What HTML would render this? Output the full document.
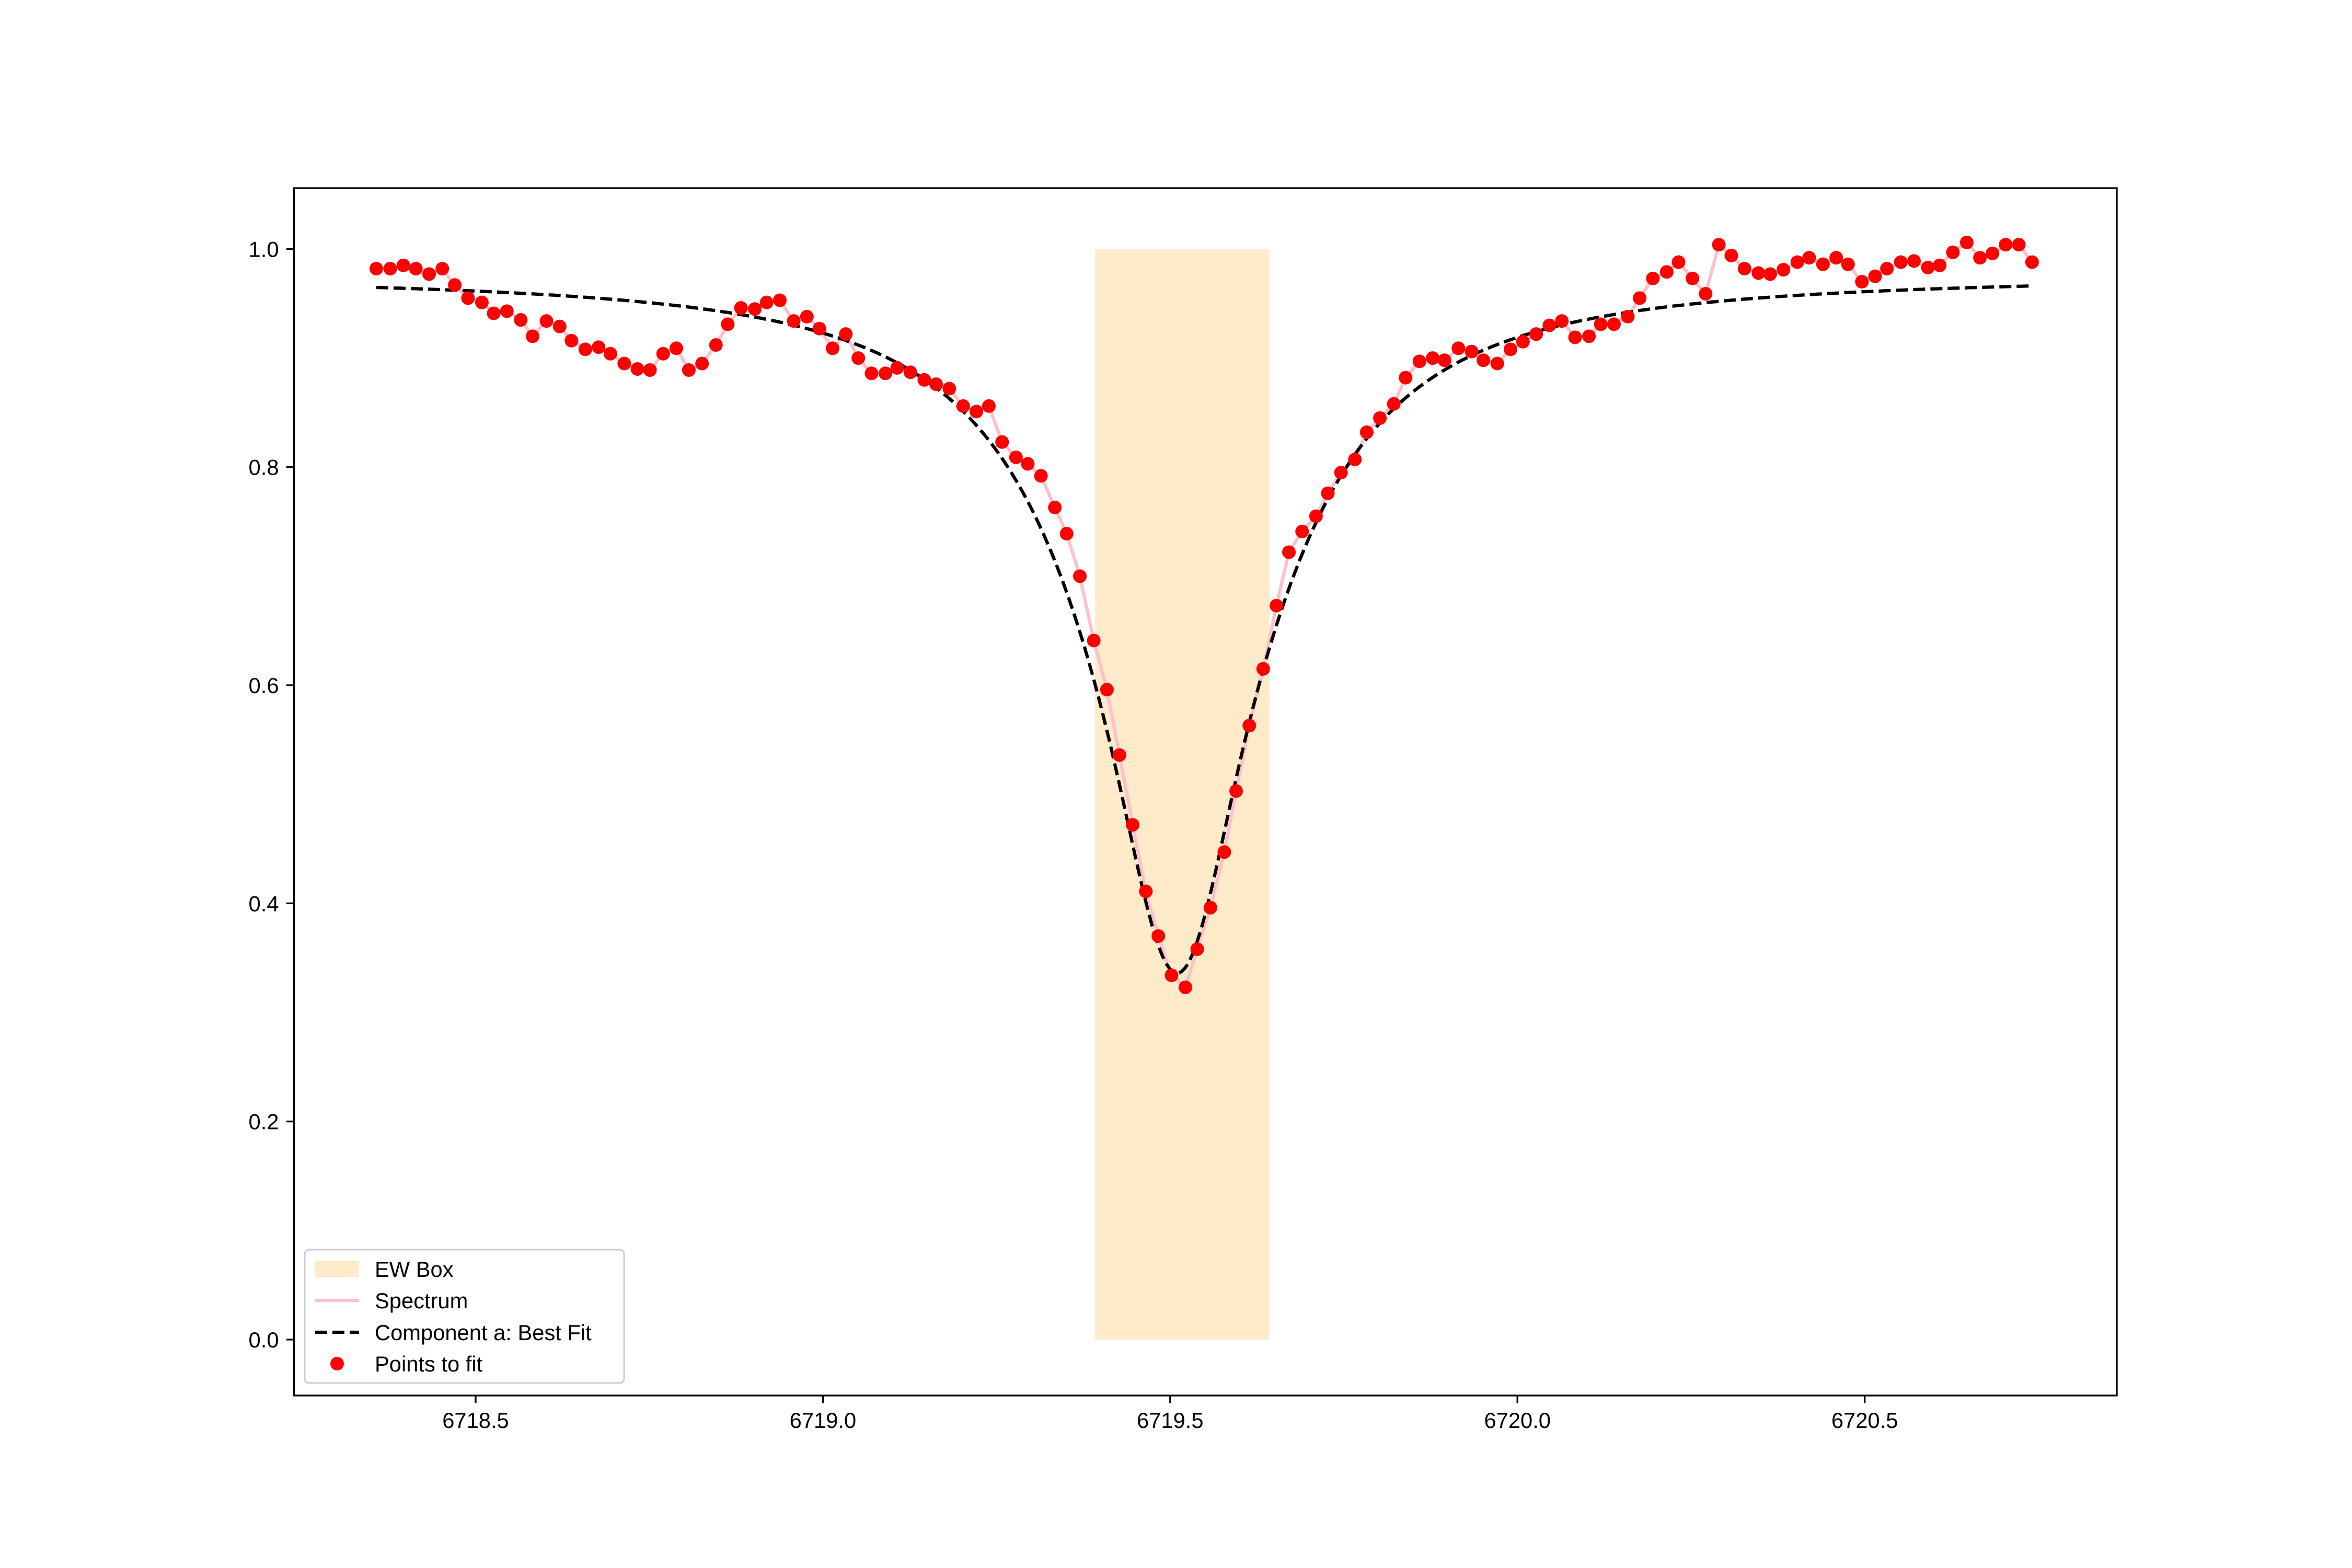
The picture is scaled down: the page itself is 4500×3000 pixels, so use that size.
<!DOCTYPE html>
<html><head><meta charset="utf-8"><style>
html,body{margin:0;padding:0;background:#fff;}
svg{display:block;font-family:"Liberation Sans","DejaVu Sans",sans-serif;}
</style></head><body>
<svg id="chart" width="4500" height="3000" viewBox="0 0 4500 3000" xmlns="http://www.w3.org/2000/svg">
<rect x="0" y="0" width="4500" height="3000" fill="#fff"/>
<g id="plot"></g>
</svg>
<script>
const wavelengths = [6718.357,6718.377,6718.396,6718.414,6718.433,6718.452,6718.470,6718.489,6718.509,6718.526,6718.545,6718.565,6718.582,6718.602,6718.621,6718.638,6718.658,6718.677,6718.694,6718.714,6718.733,6718.751,6718.770,6718.789,6718.807,6718.826,6718.846,6718.863,6718.882,6718.902,6718.919,6718.938,6718.958,6718.977,6718.995,6719.014,6719.033,6719.051,6719.070,6719.090,6719.107,6719.126,6719.146,6719.163,6719.182,6719.202,6719.221,6719.239,6719.258,6719.278,6719.295,6719.314,6719.334,6719.351,6719.370,6719.390,6719.409,6719.427,6719.446,6719.465,6719.483,6719.502,6719.522,6719.539,6719.558,6719.578,6719.595,6719.614,6719.634,6719.653,6719.671,6719.690,6719.710,6719.727,6719.746,6719.766,6719.783,6719.802,6719.822,6719.839,6719.859,6719.878,6719.895,6719.915,6719.934,6719.951,6719.971,6719.990,6720.008,6720.027,6720.046,6720.064,6720.083,6720.103,6720.120,6720.139,6720.159,6720.176,6720.195,6720.215,6720.232,6720.252,6720.271,6720.290,6720.308,6720.327,6720.347,6720.364,6720.383,6720.403,6720.420,6720.440,6720.459,6720.476,6720.496,6720.515,6720.532,6720.552,6720.571,6720.591,6720.608,6720.627,6720.647,6720.666,6720.684,6720.703,6720.722,6720.741];
const flux = [0.982,0.982,0.985,0.982,0.977,0.982,0.967,0.955,0.951,0.941,0.943,0.935,0.920,0.934,0.929,0.916,0.908,0.910,0.904,0.895,0.890,0.889,0.904,0.909,0.889,0.895,0.912,0.931,0.946,0.945,0.951,0.953,0.934,0.938,0.927,0.909,0.922,0.900,0.886,0.886,0.891,0.887,0.880,0.876,0.872,0.856,0.851,0.856,0.823,0.809,0.803,0.792,0.763,0.739,0.700,0.641,0.596,0.536,0.472,0.411,0.370,0.334,0.323,0.358,0.396,0.447,0.503,0.563,0.615,0.673,0.722,0.741,0.755,0.776,0.795,0.807,0.832,0.845,0.858,0.882,0.897,0.900,0.898,0.909,0.906,0.898,0.895,0.908,0.915,0.922,0.930,0.934,0.919,0.920,0.931,0.931,0.938,0.955,0.973,0.979,0.988,0.973,0.959,1.004,0.994,0.982,0.978,0.977,0.981,0.988,0.992,0.986,0.992,0.986,0.970,0.975,0.982,0.988,0.989,0.983,0.985,0.997,1.006,0.992,0.996,1.004,1.004,0.988];
// fit model params: [continuum, center, lorentzAmp, lorentzGamma, gaussAmp, gaussSigma]
const fitParams = [0.976, 6719.51, 0.56, 0.165, 0.08, 0.05];
const ewBox = [6719.392, 6719.643, 0.0, 1.0];
const xTicks = [6718.5, 6719.0, 6719.5, 6720.0, 6720.5];
const xTickLabels = ["6718.5","6719.0","6719.5","6720.0","6720.5"];
const yTicks = [0.0, 0.2, 0.4, 0.6, 0.8, 1.0];
const yTickLabels = ["0.0","0.2","0.4","0.6","0.8","1.0"];
const legendLabels = ["EW Box","Spectrum","Component a: Best Fit","Points to fit"];

const L=562.5,R=4050,T=360,B=2670;
const XMIN=6718.2385,XMAX=6720.863,YMIN=-0.0513,YMAX=1.0558;
const sx=v=>L+(v-XMIN)/(XMAX-XMIN)*(R-L);
const sy=v=>B-(v-YMIN)/(YMAX-YMIN)*(B-T);
const NS="http://www.w3.org/2000/svg";
const g=document.getElementById('plot');
function mk(tag,attrs,parent){const e=document.createElementNS(NS,tag);for(const k in attrs)e.setAttribute(k,attrs[k]);(parent||g).appendChild(e);return e;}

const box=mk('rect',{x:sx(ewBox[0]),y:sy(ewBox[3]),width:sx(ewBox[1])-sx(ewBox[0]),height:sy(ewBox[2])-sy(ewBox[3]),fill:'#ffebc9'});



let d='';wavelengths.forEach((w,i)=>{d+=(i?'L':'M')+sx(w).toFixed(1)+','+sy(flux[i]).toFixed(1);});
const spec=mk('path',{d:d,fill:'none',stroke:'#ffc0cb','stroke-width':6.25,'stroke-linejoin':'round'});



function model(x){const [c,x0,al,gm,ag,sg]=fitParams;const dx=x-x0;return c-al/(1+(dx/gm)*(dx/gm))-ag*Math.exp(-dx*dx/(2*sg*sg));}
let fd='';const x0=wavelengths[0],x1=wavelengths[wavelengths.length-1];
for(let i=0;i<=800;i++){const x=x0+(x1-x0)*i/800;fd+=(i?'L':'M')+sx(x).toFixed(1)+','+sy(model(x)).toFixed(1);}
const fit=mk('path',{d:fd,fill:'none',stroke:'#000','stroke-width':6.25,'stroke-dasharray':'23 10'});



wavelengths.forEach((w,i)=>{const c=mk('circle',{cx:sx(w),cy:sy(flux[i]),r:13,fill:'#ff0000'});

});

const frame=mk('rect',{x:L,y:T,width:R-L,height:B-T,fill:'none',stroke:'#000','stroke-width':3.33});



xTicks.forEach((v,i)=>{const x=sx(v);
const t=mk('line',{x1:x,y1:B,x2:x,y2:B+14.6,stroke:'#000','stroke-width':3.33});


const tx=mk('text',{x:x,y:B+62,'font-size':41.7,'text-anchor':'middle',fill:'#000'});tx.textContent=xTickLabels[i];

});
yTicks.forEach((v,i)=>{const y=sy(v);
const t=mk('line',{x1:L,y1:y,x2:L-14.6,y2:y,stroke:'#000','stroke-width':3.33});


const tx=mk('text',{x:L-29,y:y+15,'font-size':41.7,'text-anchor':'end',fill:'#000'});tx.textContent=yTickLabels[i];

});

const lg=mk('g',{});


mk('rect',{x:583,y:2391,width:611,height:255,rx:8,fill:'#fff','fill-opacity':0.8,stroke:'#ccc','stroke-width':3},lg);
const ly=[2428,2488,2549,2609];
const h0=mk('rect',{x:603,y:ly[0]-15,width:84,height:30,fill:'#ffebc9'},lg);


const h1=mk('line',{x1:603,y1:ly[1],x2:687,y2:ly[1],stroke:'#ffc0cb','stroke-width':6.25},lg);


const h2=mk('line',{x1:603,y1:ly[2],x2:687,y2:ly[2],stroke:'#000','stroke-width':6.25,'stroke-dasharray':'23 10'},lg);


const h3=mk('circle',{cx:645,cy:ly[3],r:13,fill:'#ff0000'},lg);


legendLabels.forEach((s,i)=>{const t=mk('text',{x:717,y:ly[i]+15,'font-size':41.7,fill:'#000'},lg);t.textContent=s;

});
</script>
</body></html>
